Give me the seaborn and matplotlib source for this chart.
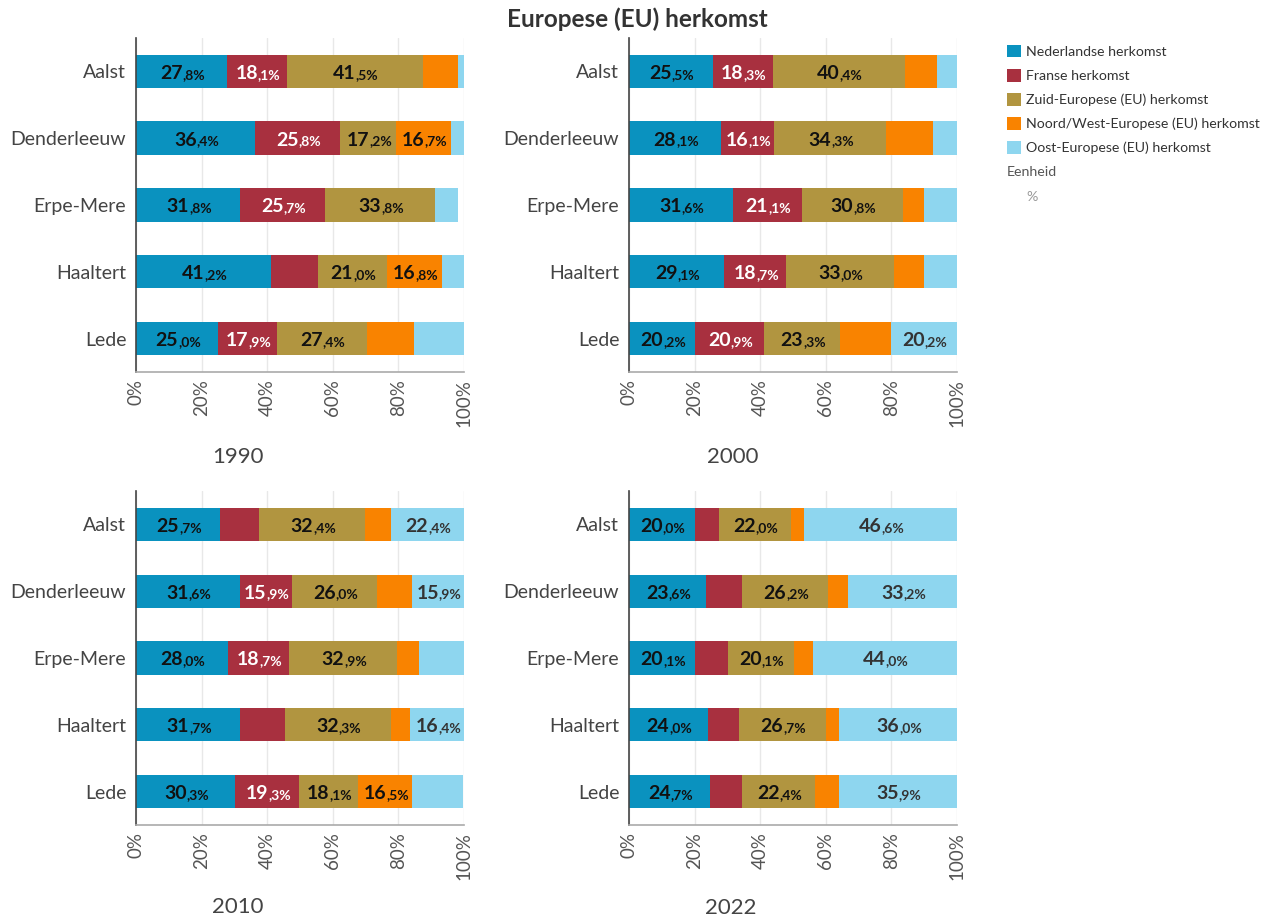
import numpy as np
import pandas as pd
import matplotlib
matplotlib.use("Agg")
import matplotlib.pyplot as plt
from matplotlib.patches import Patch
import seaborn as sns

# ---------------- data ----------------
cities = ["Aalst", "Denderleeuw", "Erpe-Mere", "Haaltert", "Lede"]
series = ["Nederlandse herkomst", "Franse herkomst", "Zuid-Europese (EU) herkomst",
          "Noord/West-Europese (EU) herkomst", "Oost-Europese (EU) herkomst"]
years = ["1990", "2000", "2010", "2022"]

nl_1990 = [27.8, 36.4, 31.8, 41.2, 25.0]
fr_1990 = [18.1, 25.8, 25.7, 14.2, 17.9]
zu_1990 = [41.5, 17.2, 33.8, 21.0, 27.4]
nw_1990 = [10.8, 16.7, 0.0, 16.8, 14.4]
oo_1990 = [1.8, 3.9, 6.9, 6.8, 15.3]

nl_2000 = [25.5, 28.1, 31.6, 29.1, 20.2]
fr_2000 = [18.3, 16.1, 21.1, 18.7, 20.9]
zu_2000 = [40.4, 34.3, 30.8, 33.0, 23.3]
nw_2000 = [9.6, 14.2, 6.5, 9.1, 15.4]
oo_2000 = [6.2, 7.3, 10.0, 10.1, 20.2]

nl_2010 = [25.7, 31.6, 28.0, 31.7, 30.3]
fr_2010 = [11.8, 15.9, 18.7, 13.7, 19.3]
zu_2010 = [32.4, 26.0, 32.9, 32.3, 18.1]
nw_2010 = [7.7, 10.6, 6.6, 5.9, 16.5]
oo_2010 = [22.4, 15.9, 13.8, 16.4, 15.6]

nl_2022 = [20.0, 23.6, 20.1, 24.0, 24.7]
fr_2022 = [7.3, 10.9, 10.0, 9.4, 9.7]
zu_2022 = [22.0, 26.2, 20.1, 26.7, 22.4]
nw_2022 = [4.1, 6.1, 5.8, 3.9, 7.2]
oo_2022 = [46.6, 33.2, 44.0, 36.0, 35.9]

data = {
    "1990": [nl_1990, fr_1990, zu_1990, nw_1990, oo_1990],
    "2000": [nl_2000, fr_2000, zu_2000, nw_2000, oo_2000],
    "2010": [nl_2010, fr_2010, zu_2010, nw_2010, oo_2010],
    "2022": [nl_2022, fr_2022, zu_2022, nw_2022, oo_2022],
}

xticks = [0, 20, 40, 60, 80, 100]
xtick_labels = ["0%", "20%", "40%", "60%", "80%", "100%"]

# ---------------- style ----------------
colors = ["#0a92bf", "#a8303f", "#b19540", "#f98300", "#8ed6ef"]
text_colors = ["#111111", "#ffffff", "#111111", "#111111", "#333333"]
label_min = 15.7

sns.set_theme(style="white")
plt.rcParams["font.family"] = ["Lato", "DejaVu Sans"]

W, H = 1277, 922
fig = plt.figure(figsize=(W / 100, H / 100), dpi=100)

panel_pos = {
    "1990": (136, 38, 464, 372),
    "2000": (629, 38, 957, 372),
    "2010": (136, 491, 464, 825),
    "2022": (629, 491, 957, 825),
}
year_pos = {"1990": (238, 457), "2000": (733, 457), "2010": (238, 907), "2022": (731, 908)}

for yr in years:
    x0, y0, x1, y1 = panel_pos[yr]
    ax = fig.add_axes([x0 / W, 1 - y1 / H, (x1 - x0) / W, (y1 - y0) / H])
    vals = np.array(data[yr])  # series x cities
    cum = np.cumsum(vals, axis=0)
    # draw cumulative bars from the total down to the first series
    for k in range(len(series) - 1, -1, -1):
        df = pd.DataFrame({"city": cities, "value": cum[k]})
        sns.barplot(data=df, x="value", y="city", color=colors[k], saturation=1,
                    width=0.5, linewidth=0, orient="h", ax=ax)
    # value labels
    for k in range(len(series)):
        for i, c in enumerate(cities):
            v = vals[k, i]
            if v < label_min:
                continue
            centre = cum[k, i] - v / 2
            ip, dp = f"{v:.1f}".split(".")
            ax.text(centre + 0.3, i + 0.11, ip, ha="right", va="baseline",
                    fontsize=14, fontweight="bold", color=text_colors[k])
            ax.text(centre + 0.3, i + 0.11, f",{dp}%", ha="left", va="baseline",
                    fontsize=10, fontweight="bold", color=text_colors[k])
    ax.set_xlim(0, 100)
    ax.set_ylim(4.5, -0.5)
    ax.set_xticks(xticks)
    ax.set_xticklabels(xtick_labels, rotation=90, fontsize=13.5, color="#555555")
    ax.tick_params(axis="x", length=0, pad=5)
    ax.tick_params(axis="y", length=0, pad=7, labelsize=14, labelcolor="#444444")
    ax.set_xlabel("")
    ax.set_ylabel("")
    ax.grid(axis="x", color="#e8e8e8", linewidth=1)
    ax.set_axisbelow(True)
    for s in ["top", "right"]:
        ax.spines[s].set_visible(False)
    ax.spines["left"].set_color("#444444")
    ax.spines["left"].set_linewidth(1.2)
    ax.spines["bottom"].set_color("#aaaaaa")
    ax.spines["bottom"].set_linewidth(1.2)
    tx, ty = year_pos[yr]
    fig.text(tx / W, 1 - ty / H, yr, ha="center", va="center", fontsize=16, color="#444444")

fig.text(637 / W, 1 - 19 / H, "Europese (EU) herkomst", ha="center", va="center",
         fontsize=17.5, fontweight="bold", color="#333333")

handles = [Patch(facecolor=c, edgecolor="none") for c in colors]
fig.legend(handles, series, loc="upper left", bbox_to_anchor=(1007 / W, 1 - 45 / H),
           frameon=False, fontsize=10.2, handlelength=0.98, handleheight=0.98,
           handletextpad=0.35, labelspacing=0.77, borderaxespad=0, borderpad=0,
           labelcolor="#333333")
fig.text(1007 / W, 1 - 172 / H, "Eenheid", ha="left", va="center", fontsize=10.2, color="#555555")
fig.text(1026 / W, 1 - 197 / H, "%", ha="left", va="center", fontsize=10.2, color="#999999")

fig.savefig("out.png", dpi=100)
